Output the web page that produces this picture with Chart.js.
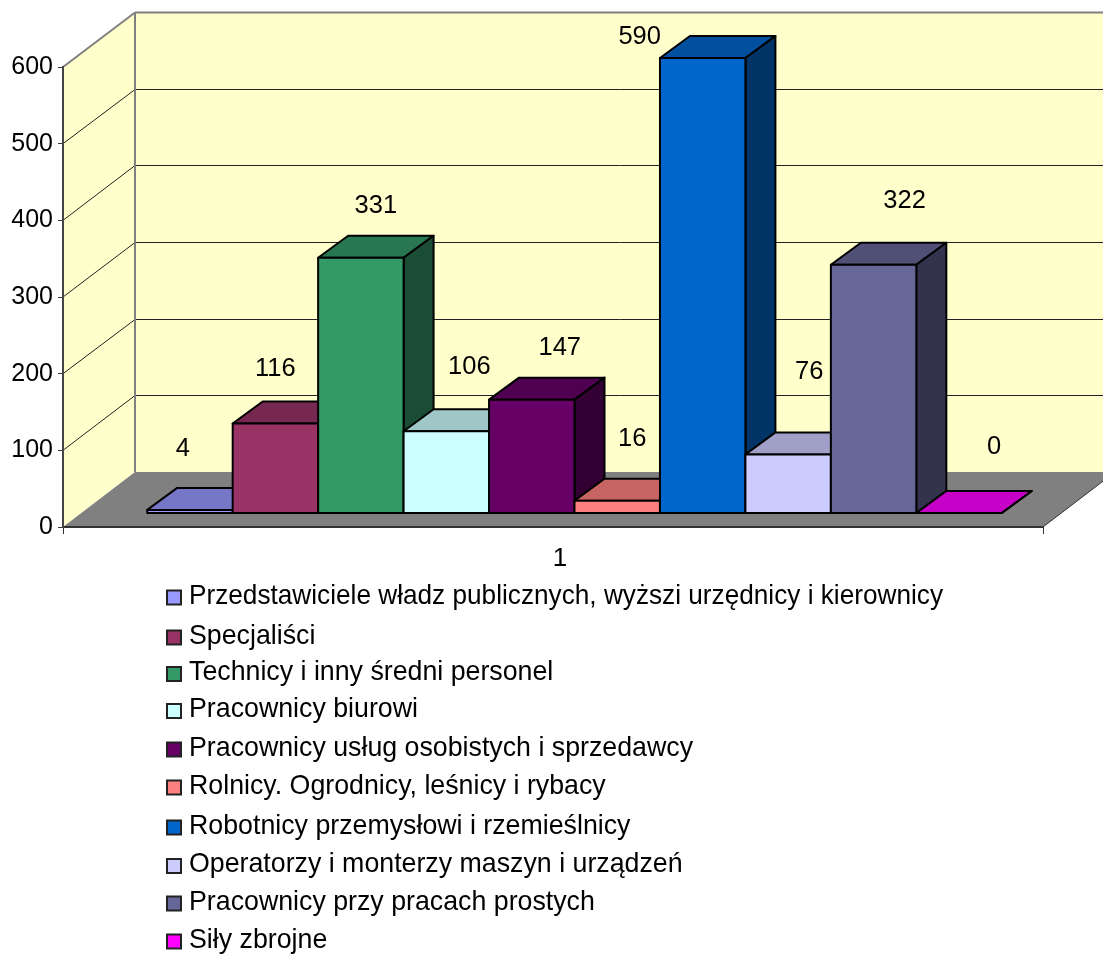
<!DOCTYPE html>
<html lang="pl">
<head>
    <meta charset="UTF-8">
    <title>Pracownicy według grup zawodów</title>
    <script src="https://cdn.jsdelivr.net/npm/chart.js"></script>
    <style>
        body { margin: 0; background: #fff; }
        canvas { display: block; }
    </style>
</head>
<body>
    <canvas id="wykres" width="1103" height="954"></canvas>

    <script>
        const kategorie = ['1'];
        const grupy = [
            'Przedstawiciele władz publicznych, wyższi urzędnicy i kierownicy',
            'Specjaliści',
            'Technicy i inny średni personel',
            'Pracownicy biurowi',
            'Pracownicy usług osobistych i sprzedawcy',
            'Rolnicy. Ogrodnicy, leśnicy i rybacy',
            'Robotnicy przemysłowi i rzemieślnicy',
            'Operatorzy i monterzy maszyn i urządzeń',
            'Pracownicy przy pracach prostych',
            'Siły zbrojne'
        ];
        const wartosci = [4, 116, 331, 106, 147, 16, 590, 76, 322, 0];
        const kolory = ['#9999ff', '#993366', '#339966', '#ccffff', '#660066', '#ff8080', '#0066cc', '#ccccff', '#666699', '#ff00ff'];

        // przesuniecia etykiet wzgledem srodka i gory slupka (jak w oryginale)
        const etykietyDx = [-7, 0, 15, 23, 28, 15, -63, 21, 31, 35];
        const etykietyDy = [-61, -55, -52, -64, -52, -62, -21, -82, -64, -66];
        const legendaY = [597.5, 637.5, 674, 711, 749.5, 787.5, 827.5, 866, 903.5, 941.5];

        const FONT_LEGENDA = '26.75px "Liberation Sans", Arial, sans-serif';
        const FONT_ETYKIETA = '25.5px "Liberation Sans", Arial, sans-serif';
        const SZER_LEGENDY = 754;
        const SCIANA_X = 72, SCIANA_Y = 55;   // glebokosc scian
        const SLUPEK_X = 30, SLUPEK_Y = 22;   // glebokosc slupkow
        const PLASZCZYZNA_X = 21.5, PLASZCZYZNA_Y = 14;

        function przyciemnij(hex, f) {
            const n = parseInt(hex.slice(1), 16);
            return `rgb(${Math.round((n >> 16) * f)},${Math.round(((n >> 8) & 255) * f)},${Math.round((n & 255) * f)})`;
        }

        function wielokat(ctx, punkty, kolor, obrys, grubosc) {
            ctx.beginPath();
            punkty.forEach((p, i) => i ? ctx.lineTo(p[0], p[1]) : ctx.moveTo(p[0], p[1]));
            ctx.closePath();
            if (kolor) { ctx.fillStyle = kolor; ctx.fill(); }
            if (obrys) { ctx.strokeStyle = obrys; ctx.lineWidth = grubosc; ctx.stroke(); }
        }

        function linia(ctx, x1, y1, x2, y2, kolor, grubosc) {
            ctx.beginPath();
            ctx.moveTo(x1, y1);
            ctx.lineTo(x2, y2);
            ctx.strokeStyle = kolor;
            ctx.lineWidth = grubosc;
            ctx.stroke();
        }

        const wykres3d = {
            id: 'wykres3d',
            beforeDraw(chart) {
                const { ctx, chartArea: a, scales } = chart;
                const y = scales.y;
                const tyl = a.left + SCIANA_X;
                const prawy = a.right + SCIANA_X;
                ctx.save();
                // sciany
                wielokat(ctx, [[a.left, a.top], [tyl, a.top - SCIANA_Y], [tyl, a.bottom - SCIANA_Y], [a.left, a.bottom]], '#ffffcc');
                ctx.fillStyle = '#ffffcc';
                ctx.fillRect(tyl, a.top - SCIANA_Y, prawy - tyl, a.bottom - a.top);
                // podloga
                wielokat(ctx, [[a.left, a.bottom], [tyl, a.bottom - SCIANA_Y], [prawy, a.bottom - SCIANA_Y], [a.right, a.bottom]], '#808080');
                // linie siatki
                y.ticks.forEach((t, i) => {
                    if (t.value === 0) return;
                    const py = y.getPixelForTick(i);
                    const gora = t.value === y.max;
                    const kolor = gora ? '#808080' : '#222222';
                    const gr = gora ? 2 : 1;
                    const tylY = Math.round(py - SCIANA_Y) + 0.5;
                    linia(ctx, a.left, py, tyl, tylY, kolor, gr);
                    linia(ctx, tyl, tylY, prawy, tylY, kolor, gr);
                });
                linia(ctx, tyl, a.top - SCIANA_Y, tyl, a.bottom - SCIANA_Y, '#808080', 2);
                linia(ctx, a.right, a.bottom, prawy, a.bottom - SCIANA_Y, '#333333', 1);
                ctx.restore();
            },
            beforeDatasetsDraw(chart) {
                const ctx = chart.ctx;
                ctx.save();
                ctx.translate(PLASZCZYZNA_X, -PLASZCZYZNA_Y);
                ctx.lineJoin = 'round';
                wartosci.forEach((w, i) => {
                    const el = chart.getDatasetMeta(i).data[0];
                    const l = el.x - el.width / 2, r = el.x + el.width / 2;
                    const dx = SLUPEK_X, dy = SLUPEK_Y;
                    wielokat(ctx, [[l, el.y], [l + dx, el.y - dy], [r + dx, el.y - dy], [r, el.y]], przyciemnij(kolory[i], 0.78), '#000', 2);
                    wielokat(ctx, [[r, el.y], [r + dx, el.y - dy], [r + dx, el.base - dy], [r, el.base]], przyciemnij(kolory[i], 0.5), '#000', 2);
                    el.draw(ctx);
                    wielokat(ctx, [[l, el.y], [r, el.y], [r, el.base], [l, el.base]], null, '#000', 2);
                });
                ctx.restore();
                return false;
            },
            afterDraw(chart) {
                const ctx = chart.ctx;
                ctx.save();
                ctx.fillStyle = '#000';
                ctx.textBaseline = 'middle';
                // etykiety wartosci
                ctx.font = FONT_ETYKIETA;
                ctx.textAlign = 'center';
                wartosci.forEach((w, i) => {
                    const el = chart.getDatasetMeta(i).data[0];
                    ctx.fillText(String(w), el.x + PLASZCZYZNA_X + etykietyDx[i], el.y - PLASZCZYZNA_Y + etykietyDy[i]);
                });
                // legenda
                ctx.font = FONT_LEGENDA;
                ctx.textAlign = 'left';
                grupy.forEach((g, i) => {
                    const ly = legendaY[i];
                    ctx.fillStyle = kolory[i];
                    ctx.fillRect(167, ly - 7, 14, 14);
                    ctx.strokeStyle = '#222';
                    ctx.lineWidth = 2;
                    ctx.strokeRect(167, ly - 7, 14, 14);
                    ctx.fillStyle = '#000';
                    ctx.fillText(g, 189, ly - 1, SZER_LEGENDY);
                });
                ctx.restore();
            }
        };

        new Chart(document.getElementById('wykres'), {
            type: 'bar',
            data: {
                labels: kategorie,
                datasets: wartosci.map((w, i) => ({
                    label: grupy[i],
                    data: [w],
                    backgroundColor: kolory[i],
                    borderWidth: 0,
                    yAxisID: 'slupki'
                }))
            },
            options: {
                responsive: false,
                animation: false,
                categoryPercentage: 0.872,
                barPercentage: 1,
                layout: { padding: { top: 67, right: 60 } },
                plugins: { legend: { display: false }, tooltip: { enabled: false } },
                scales: {
                    x: {
                        afterFit(s) { s.height = 427; },
                        border: { color: '#333', width: 2 },
                        grid: { drawOnChartArea: false, offset: true, tickLength: 7, color: '#333' },
                        ticks: { color: '#000', padding: 9, labelOffset: 7, font: { family: '"Liberation Sans"', size: 26 } }
                    },
                    y: {
                        min: 0,
                        max: 600,
                        afterFit(s) { s.width = 63; },
                        border: { color: '#444', width: 2 },
                        grid: { drawOnChartArea: false, tickLength: 5, color: '#333' },
                        ticks: { stepSize: 100, color: '#000', padding: 5, font: { family: '"Liberation Sans"', size: 25 } }
                    },
                    // slupki leza na przesunietej plaszczyznie, o troche innej skali
                    slupki: { display: false, min: 0, max: 596.5 }
                }
            },
            plugins: [wykres3d]
        });
    </script>
</body>
</html>
